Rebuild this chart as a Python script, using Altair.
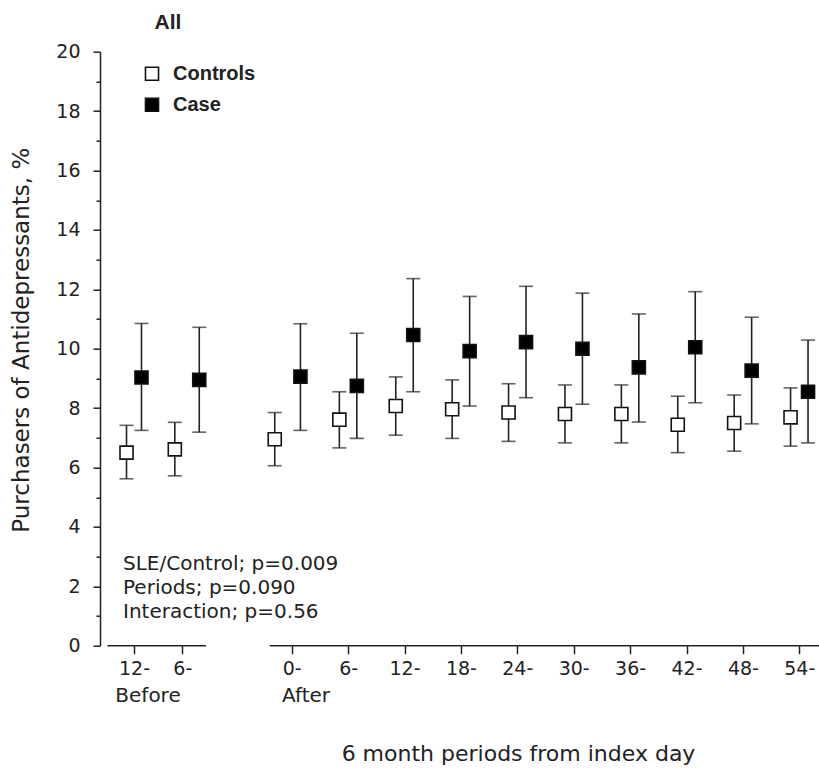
import altair as alt
import pandas as pd

# ---------------- data ----------------
periods = [-12, -6, 0, 6, 12, 18, 24, 30, 36, 42, 48, 54]
groups = ["Controls", "Case"]

ctrl_mean = [6.50, 6.61, 6.95, 7.61, 8.07, 7.96, 7.85, 7.80, 7.80, 7.44, 7.50, 7.69]
ctrl_lo = [5.62, 5.72, 6.06, 6.66, 7.09, 6.98, 6.88, 6.83, 6.83, 6.50, 6.55, 6.72]
ctrl_hi = [7.42, 7.52, 7.85, 8.55, 9.05, 8.95, 8.82, 8.78, 8.78, 8.40, 8.44, 8.68]

case_mean = [9.03, 8.95, 9.06, 8.75, 10.46, 9.92, 10.22, 10.00, 9.37, 10.05, 9.26, 8.55]
case_lo = [7.25, 7.19, 7.25, 6.98, 8.55, 8.07, 8.35, 8.13, 7.53, 8.18, 7.47, 6.83]
case_hi = [10.85, 10.72, 10.84, 10.52, 12.36, 11.76, 12.10, 11.87, 11.17, 11.92, 11.06, 10.29]

phase_labels = ["Before", "After"]
stats_lines = ["SLE/Control; p=0.009", "Periods; p=0.090", "Interaction; p=0.56"]
panel_title = "All"
x_title = "6 month periods from index day"
y_title = "Purchasers of Antidepressants, %"

# broken x axis: the two drawn segments (in month units)
seg_start = [-15.3, -1.2]
seg_end = [-4.7, 56.2]

rows = []
for i, p in enumerate(periods):
    rows.append({"period": p, "group": "Controls", "mean": ctrl_mean[i], "lo": ctrl_lo[i], "hi": ctrl_hi[i]})
    rows.append({"period": p, "group": "Case", "mean": case_mean[i], "lo": case_lo[i], "hi": case_hi[i]})
df = pd.DataFrame(rows)
segs = pd.DataFrame({"start": seg_start, "end": seg_end, "zero": [0, 0]})

INK = "#222222"
FONT = "DejaVu Sans"
BOLD_FONT = "Liberation Sans"

# piecewise x scale (before part is compressed, gap between before / after)
xscale = alt.Scale(domain=[-12, -6, 0, 54], range=[34, 82.3, 191.7, 699.3], nice=False, zero=False)
yscale = alt.Scale(domain=[0, 20], nice=False, zero=True)

xaxis = alt.Axis(
    values=periods, labelExpr="abs(datum.value) + '-'",
    domain=False, grid=False, tickSize=8, tickWidth=1.5, tickColor=INK,
    labelFont=FONT, labelFontSize=19, labelColor=INK, labelPadding=6,
    labelFlush=False, labelOverlap=False, labelBound=False,
    title=x_title, titleFont=FONT, titleFontSize=22, titleFontWeight="normal",
    titleColor=INK, titleX=418, titleY=115, titleAlign="center", titleBaseline="alphabetic",
)
yaxis_major = alt.Axis(
    values=list(range(0, 21, 2)), grid=False, domain=True, domainColor=INK, domainWidth=1.5,
    tickSize=7, tickWidth=1.5, tickColor=INK,
    labelFont=FONT, labelFontSize=19, labelColor=INK, labelPadding=13,
    title=y_title, titleFont=FONT, titleFontSize=23, titleFontWeight="normal", titleColor=INK,
    titleX=-79, titleY=288, titleAngle=270, titleAlign="center", titleBaseline="middle",
)
yaxis_minor = alt.Axis(
    values=list(range(1, 20, 2)), labels=False, domain=False, grid=False,
    tickSize=4, tickWidth=1.5, tickColor=INK, title=None, orient="left",
)

base = alt.Chart(df).transform_calculate(
    xp="datum.period + (datum.group == 'Controls' ? -0.93 : 0.93)"
)

axis_lines = alt.Chart(segs).mark_rule(color=INK, strokeWidth=1.5).encode(
    x=alt.X("start:Q", scale=xscale, axis=None),
    x2="end:Q",
    y=alt.Y("zero:Q", scale=yscale, axis=None),
)

whiskers = base.mark_rule(color=INK, strokeWidth=1.6).encode(
    x=alt.X("xp:Q", scale=xscale, axis=xaxis),
    y=alt.Y("lo:Q", scale=yscale, axis=yaxis_major),
    y2="hi:Q",
)
caps_lo = base.mark_tick(orient="horizontal", size=14, thickness=1.6, color=INK).encode(
    x=alt.X("xp:Q", scale=xscale, axis=None),
    y=alt.Y("lo:Q", scale=yscale, axis=None),
)
caps_hi = base.mark_tick(orient="horizontal", size=14, thickness=1.6, color=INK).encode(
    x=alt.X("xp:Q", scale=xscale, axis=None),
    y=alt.Y("hi:Q", scale=yscale, axis=yaxis_minor),
)
points = base.mark_square(size=170, stroke="#111111", strokeWidth=1.6, opacity=1, filled=True).encode(
    x=alt.X("xp:Q", scale=xscale, axis=None),
    y=alt.Y("mean:Q", scale=yscale, axis=None),
    fill=alt.Fill(
        "group:N",
        scale=alt.Scale(domain=groups, range=["white", "black"]),
        sort=groups,
        legend=alt.Legend(
            title=None, orient="none", legendX=42, legendY=12, padding=0,
            symbolType="square", symbolSize=170, symbolStrokeColor="#111111",
            symbolStrokeWidth=1.6, symbolOpacity=1,
            labelFont=BOLD_FONT, labelFontSize=20, labelFontWeight="bold",
            labelColor=INK, labelOffset=11, rowPadding=11,
        ),
    ),
)

title_text = alt.Chart(pd.DataFrame({"t": [panel_title]})).mark_text(
    font=BOLD_FONT, fontSize=21, fontWeight="bold", color=INK, align="center", baseline="middle"
).encode(x=alt.value(68), y=alt.value(-28.7), text="t:N")

stats = alt.Chart(pd.DataFrame({"t": stats_lines, "i": list(range(len(stats_lines)))})).transform_calculate(
    py="518 + datum.i * 24"
).mark_text(font=FONT, fontSize=20, color=INK, align="left", baseline="alphabetic").encode(
    x=alt.value(23), y=alt.Y("py:Q", scale=None, axis=None), text="t:N"
)

before_txt = alt.Chart(pd.DataFrame({"t": [phase_labels[0]]})).mark_text(
    font=FONT, fontSize=20, color=INK, align="center", baseline="middle"
).encode(x=alt.value(48), y=alt.value(644), text="t:N")
after_txt = alt.Chart(pd.DataFrame({"t": [phase_labels[1]]})).mark_text(
    font=FONT, fontSize=20, color=INK, align="center", baseline="middle"
).encode(x=alt.value(206), y=alt.value(644), text="t:N")

chart = alt.layer(
    whiskers, caps_hi, caps_lo, axis_lines, points, title_text, stats, before_txt, after_txt
).resolve_axis(x="independent", y="independent").properties(
    width=719, height=594,
    padding={"left": 100, "top": 51.7, "right": 0, "bottom": 129.3},
    autosize=alt.AutoSizeParams(type="none"),
).configure_view(stroke=None)

chart.save("out.html", embed_options={"renderer": "svg", "actions": False})
